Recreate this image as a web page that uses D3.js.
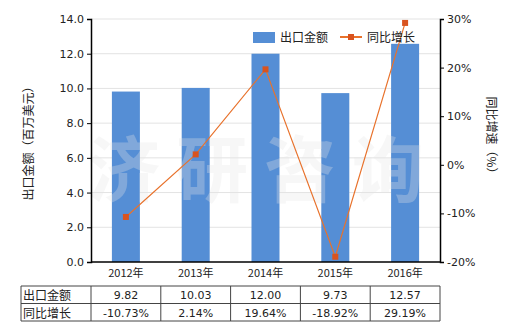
<!DOCTYPE html>
<html>
<head>
<meta charset="utf-8">
<script src="https://cdn.jsdelivr.net/npm/d3@7"></script>
<style>
  body { margin: 0; background: #fff; }
  svg text { font-family: "Noto Sans CJK SC", "DejaVu Sans", sans-serif; }
</style>
</head>
<body>
<div id="chart"></div>
<script>
// chart data
var years = ['2012年', '2013年', '2014年', '2015年', '2016年'];
var exportValues = [9.82, 10.03, 12.00, 9.73, 12.57];
var growthValues = [-10.73, 2.14, 19.64, -18.92, 29.19];
var leftTicks = [0, 2, 4, 6, 8, 10, 12, 14];
var rightTicks = [-20, -10, 0, 10, 20, 30];
var exportLabels = ['9.82', '10.03', '12.00', '9.73', '12.57'];
var growthLabels = ['-10.73%', '2.14%', '19.64%', '-18.92%', '29.19%'];

var W = 520, H = 330;
var pLeft = 91, pRight = 440, pTop = 19, pBottom = 262;

var svg = d3.select('#chart').append('svg')
  .attr('width', W).attr('height', H);

var band = d3.scaleBand().domain(years).range([pLeft, pRight]);
var yL = d3.scaleLinear().domain([0, 14]).range([pBottom, pTop]);
var yR = d3.scaleLinear().domain([-20, 30]).range([pBottom, pTop]);

function cx(i) { return band(years[i]) + band.bandwidth() / 2; }

// gridlines
svg.append('g').selectAll('line')
  .data(leftTicks.slice(1))
  .enter().append('line')
  .attr('x1', pLeft).attr('x2', pRight)
  .attr('y1', function(d) { return yL(d); })
  .attr('y2', function(d) { return yL(d); })
  .attr('stroke', '#e3e3e3');

// bars
svg.append('g').selectAll('rect')
  .data(exportValues)
  .enter().append('rect')
  .attr('x', function(d, i) { return cx(i) - 14; })
  .attr('width', 28)
  .attr('y', function(d) { return yL(d); })
  .attr('height', function(d) { return pBottom - yL(d); })
  .attr('fill', '#558ed5');

// watermark, one glyph at a time
var mark = '济研咨询'.split('');
svg.append('g').selectAll('text')
  .data(mark)
  .enter().append('text')
  .attr('x', function(d, i) { return 124 + i * 88; })
  .attr('y', 196)
  .attr('text-anchor', 'middle')
  .attr('font-size', 72).attr('font-weight', 'bold')
  .attr('fill', '#e6e6e6').attr('opacity', 0.3)
  .text(function(d) { return d; });

// growth line
var line = d3.line()
  .x(function(d, i) { return cx(i); })
  .y(function(d) { return yR(d); });

svg.append('path')
  .datum(growthValues)
  .attr('d', line)
  .attr('fill', 'none')
  .attr('stroke', '#e8722c')
  .attr('stroke-width', 1.2);

svg.append('g').selectAll('rect')
  .data(growthValues)
  .enter().append('rect')
  .attr('x', function(d, i) { return cx(i) - 3; })
  .attr('y', function(d) { return yR(d) - 3; })
  .attr('width', 6).attr('height', 6)
  .attr('fill', '#d9531e');

// axes
var axL = svg.append('g').attr('transform', 'translate(' + pLeft + ',0)')
  .call(d3.axisLeft(yL).tickValues(leftTicks).tickFormat(d3.format('.1f')).tickSize(4));
var axR = svg.append('g').attr('transform', 'translate(' + pRight + ',0)')
  .call(d3.axisRight(yR).tickValues(rightTicks).tickFormat(function(d) { return d + '%'; }).tickSize(4));
var axB = svg.append('g').attr('transform', 'translate(0,' + pBottom + ')')
  .call(d3.axisBottom(band).tickSize(0).tickPadding(7));

[axL, axR, axB].forEach(function(a) {
  a.select('.domain').attr('stroke', '#000').attr('stroke-width', 1.5);
  a.selectAll('.tick line').attr('stroke', '#000');
  a.selectAll('.tick text').attr('font-size', 11).attr('fill', '#222')
    .style('font-family', '"DejaVu Sans", sans-serif');
});
axB.select('.domain').attr('d', 'M' + pLeft + ',0H' + pRight);
axB.selectAll('.tick text').style('font-family', '"Noto Sans CJK SC", sans-serif').attr('font-size', 11);

// axis titles
svg.append('text')
  .attr('transform', 'translate(30,' + ((pTop + pBottom) / 2) + ') rotate(-90)')
  .attr('text-anchor', 'middle').attr('dominant-baseline', 'middle')
  .attr('font-size', 12).attr('fill', '#222')
  .text('出口金额（百万美元）');
svg.append('text')
  .attr('transform', 'translate(490,138) rotate(90)')
  .attr('text-anchor', 'middle').attr('dominant-baseline', 'middle')
  .attr('font-size', 12).attr('fill', '#222')
  .text('同比增速（%）');

// legend
var lg = svg.append('g');
lg.append('rect').attr('x', 253).attr('y', 32).attr('width', 22).attr('height', 11).attr('fill', '#558ed5');
lg.append('text').attr('x', 280).attr('y', 42).attr('font-size', 12).attr('fill', '#222').text('出口金额');
lg.append('line').attr('x1', 340).attr('x2', 362).attr('y1', 37).attr('y2', 37)
  .attr('stroke', '#e8722c').attr('stroke-width', 2);
lg.append('rect').attr('x', 348).attr('y', 34).attr('width', 6).attr('height', 6).attr('fill', '#d9531e');
lg.append('text').attr('x', 367).attr('y', 42).attr('font-size', 12).attr('fill', '#222').text('同比增长');

// data table
var tLeft = 21, rowTop = 286, rowH = 17.5;
var rows = [['出口金额', exportLabels], ['同比增长', growthLabels]];
var tbl = svg.append('g');
var tRight = band(years[years.length - 1]) + band.bandwidth();
for (var r = 0; r <= 2; r++) {
  tbl.append('line').attr('x1', tLeft).attr('x2', tRight)
    .attr('y1', rowTop + r * rowH).attr('y2', rowTop + r * rowH)
    .attr('stroke', '#444');
}
var vx = [tLeft, pLeft].concat(years.map(function(y) { return band(y) + band.bandwidth(); }));
vx.forEach(function(v) {
  tbl.append('line').attr('x1', v).attr('x2', v)
    .attr('y1', rowTop).attr('y2', rowTop + 2 * rowH)
    .attr('stroke', '#444');
});
rows.forEach(function(row, ri) {
  var cy = rowTop + ri * rowH + rowH / 2;
  tbl.append('text').attr('x', tLeft + 2).attr('y', cy)
    .attr('dominant-baseline', 'central').attr('font-size', 12).attr('fill', '#222')
    .text(row[0]);
  row[1].forEach(function(v, i) {
    tbl.append('text').attr('x', cx(i)).attr('y', cy + 1)
      .attr('text-anchor', 'middle').attr('dominant-baseline', 'central')
      .attr('font-size', 11).attr('fill', '#222')
      .style('font-family', '"DejaVu Sans", sans-serif')
      .text(v);
  });
});
</script>
</body>
</html>
